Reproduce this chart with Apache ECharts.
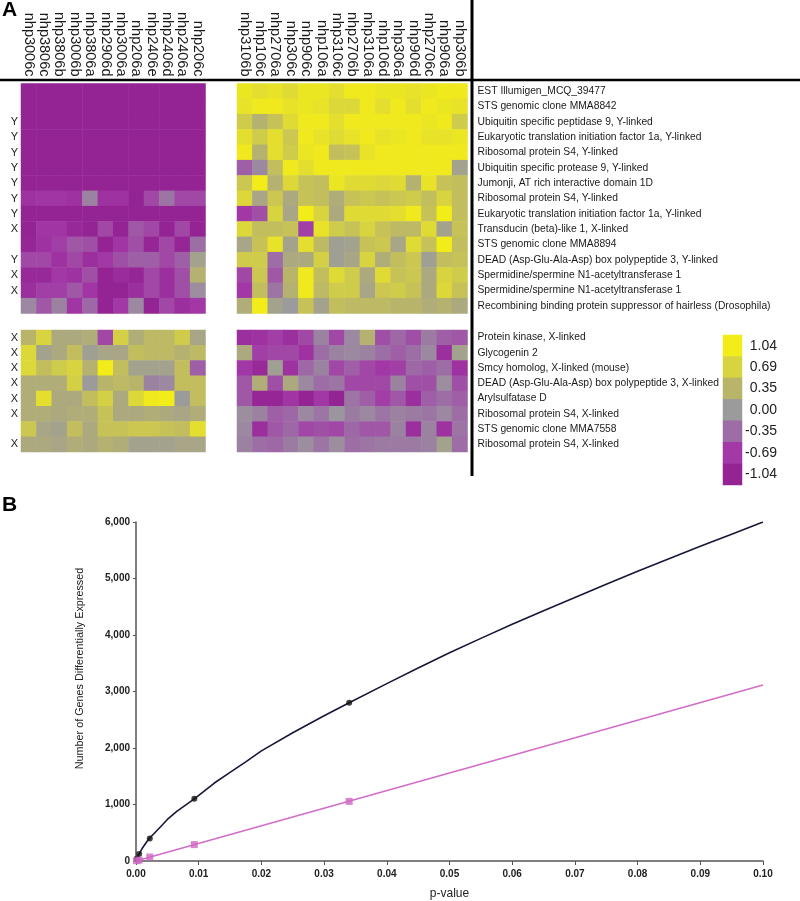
<!DOCTYPE html>
<html><head><meta charset="utf-8">
<script src="https://cdn.jsdelivr.net/npm/echarts@6/dist/echarts.min.js"></script>
<style>html,body{margin:0;padding:0;background:#fff}#c{width:800px;height:901px}</style>
</head><body><div id="c"></div>
<script>
// ---------- Panel A data ----------
const colsLeft = ['nhp3006c','nhp3806c','nhp3806b','nhp3006b','nhp3806a','nhp2906d','nhp3006a','nhp206a','nhp2406e','nhp2406d','nhp2406a','nhp206c'];
const colsRight = ['nhp3106b','nhp106c','nhp2706a','nhp306c','nhp906c','nhp106a','nhp3106c','nhp2706b','nhp3106a','nhp106d','nhp306a','nhp906d','nhp2706c','nhp906a','nhp306b'];
const genesTop = ['EST Illumigen_MCQ_39477','STS genomic clone MMA8842','Ubiquitin specific peptidase 9, Y-linked','Eukaryotic translation initiation factor 1a, Y-linked','Ribosomal protein S4, Y-linked','Ubiquitin specific protease 9, Y-linked','Jumonji, AT rich interactive domain 1D','Ribosomal protein S4, Y-linked','Eukaryotic translation initiation factor 1a, Y-linked','Transducin (beta)-like 1, X-linked','STS genomic clone MMA8894','DEAD (Asp-Glu-Ala-Asp) box polypeptide 3, Y-linked','Spermidine/spermine N1-acetyltransferase 1','Spermidine/spermine N1-acetyltransferase 1','Recombining binding protein suppressor of hairless (Drosophila)'];
const chromTop = ['','','Y','Y','Y','Y','Y','Y','Y','X','','Y','X','X',''];
const genesBottom = ['Protein kinase, X-linked','Glycogenin 2','Smcy homolog, X-linked (mouse)','DEAD (Asp-Glu-Ala-Asp) box polypeptide 3, X-linked','Arylsulfatase D','Ribosomal protein S4, X-linked','STS genomic clone MMA7558','Ribosomal protein S4, X-linked'];
const chromBottom = ['X','X','X','X','X','X','','X'];

const valsTopLeft = [
 [-1.04,-1.04,-1.04,-1.04,-1.04,-1.04,-1.04,-1.04,-1.04,-1.04,-1.04,-1.04],
 [-1.04,-1.04,-1.04,-1.04,-1.04,-1.04,-1.04,-1.04,-1.04,-1.04,-1.04,-1.04],
 [-1.04,-1.04,-1.04,-1.04,-1.04,-1.04,-1.04,-1.04,-1.04,-1.04,-1.04,-1.04],
 [-1.04,-1.04,-1.04,-1.04,-1.04,-1.04,-1.04,-1.04,-1.04,-1.04,-1.04,-1.04],
 [-1.04,-1.04,-1.04,-1.04,-1.04,-1.04,-1.04,-1.04,-1.04,-1.04,-1.04,-1.04],
 [-1.04,-1.04,-1.04,-1.04,-1.04,-1.04,-1.04,-1.04,-1.04,-1.04,-1.04,-1.04],
 [-1.04,-1.04,-1.04,-1.04,-1.04,-1.04,-1.04,-1.04,-1.04,-1.04,-1.04,-1.04],
 [-0.8,-0.75,-0.75,-0.8,-0.2,-0.8,-0.8,-1.04,-0.6,-0.3,-0.6,-0.6],
 [-1.04,-1.04,-1.04,-1.04,-1.04,-1.04,-1.04,-1.04,-1.04,-1.04,-1.04,-1.04],
 [-1.04,-0.75,-0.75,-0.95,-1.04,-0.6,-1.04,-0.5,-0.6,-1.04,-0.6,-1.04],
 [-1.0,-0.8,-0.65,-0.5,-0.55,-1.04,-0.75,-0.55,-1.0,-0.6,-1.0,-0.35],
 [-0.6,-0.6,-0.8,-0.6,-0.85,-0.7,-0.55,-0.45,-0.45,-0.6,-0.45,0.1],
 [-0.95,-0.95,-0.7,-0.8,-0.55,-1.04,-0.9,-1.0,-0.6,-0.85,-0.55,0.3],
 [-0.85,-0.65,-0.65,-0.5,-0.75,-1.04,-1.04,-0.85,-0.6,-0.85,-0.55,-0.1],
 [-0.15,-0.5,-0.2,-0.75,-0.4,-1.04,-0.7,-0.15,-1.04,-0.6,-0.85,-0.7]
];
const valsTopRight = [
 [0.95,0.85,0.9,0.8,0.95,0.95,0.85,1.0,1.0,0.95,0.95,0.9,0.95,1.0,1.0],
 [0.9,1.0,1.0,0.9,0.95,0.9,0.75,0.75,1.0,0.85,1.0,0.85,1.0,0.95,0.9],
 [0.6,0.3,0.5,0.8,1.0,1.0,0.85,1.0,1.0,1.0,1.0,1.0,0.95,1.0,0.6],
 [0.85,0.6,0.85,0.55,1.0,0.9,0.8,0.9,1.0,0.9,0.95,1.0,0.9,0.9,0.95],
 [1.0,0.3,0.85,0.6,0.95,1.0,0.45,0.5,0.9,1.0,1.0,1.0,1.0,1.0,1.0],
 [-0.45,-0.15,0.45,1.0,0.85,1.0,1.0,1.0,1.0,1.0,1.0,1.0,1.0,1.0,0.1],
 [0.55,1.04,0.3,0.75,0.5,0.45,0.95,0.8,0.8,0.75,0.8,0.3,0.9,0.5,0.45],
 [0.75,0.15,0.55,0.2,0.5,0.45,0.25,0.5,0.55,0.5,0.55,0.6,0.45,0.7,0.45],
 [-0.7,-0.55,0.7,0.15,1.04,0.7,0.2,0.8,0.8,0.8,0.85,1.0,0.5,1.04,0.45],
 [0.75,0.45,0.45,0.5,-0.65,0.9,0.6,0.5,0.7,0.5,0.4,0.4,0.8,0.1,0.5],
 [0.15,0.5,0.9,0.1,0.85,0.4,0.05,0.1,0.5,0.55,0.15,0.8,0.5,1.04,0.45],
 [0.6,0.6,-0.35,0.2,0.2,0.65,0.05,0.15,0.7,0.25,0.45,0.55,0.05,0.45,0.5],
 [-0.6,0.55,-0.5,0.35,1.0,0.45,0.8,0.6,0.2,0.8,0.5,0.55,0.2,0.7,0.6],
 [-0.7,0.45,-0.3,0.3,1.0,0.4,0.6,0.6,0.15,0.55,0.6,0.5,0.2,0.75,0.5],
 [0.25,1.04,0.1,0.0,0.5,0.1,0.45,0.4,0.4,0.4,0.35,0.35,0.25,0.3,0.2]
];
const valsBottomLeft = [
 [0.35,0.7,0.2,0.2,0.25,-0.6,0.65,0.25,0.4,0.4,0.6,0.15],
 [0.75,0.1,0.2,0.45,0.05,0.15,0.15,0.45,0.4,0.4,0.3,0.4],
 [0.75,0.45,0.6,0.7,0.3,1.04,0.45,0.1,0.1,0.1,0.45,-0.45],
 [0.25,0.25,0.25,0.65,0.0,0.35,0.4,0.35,-0.2,-0.15,0.45,0.45],
 [0.25,0.85,0.2,0.2,0.45,0.65,0.2,0.75,1.0,1.04,0.0,0.45],
 [0.25,0.25,0.2,0.25,0.25,0.5,0.2,0.2,0.25,0.2,0.15,0.25],
 [0.55,0.15,0.1,0.45,0.2,0.5,0.5,0.55,0.55,0.5,0.45,0.85],
 [0.2,0.2,0.15,0.25,0.2,0.3,0.25,0.1,0.1,0.1,0.15,0.15]
];
const valsBottomRight = [
 [-0.85,-0.8,-0.65,-0.85,-0.6,-0.2,-0.6,-0.15,0.3,-0.55,-0.4,-0.55,-0.25,-0.45,-0.5],
 [0.2,-0.65,-0.6,-0.6,-0.8,-0.35,-0.2,-0.15,-0.2,-0.35,-0.45,-0.35,-0.15,-0.85,0.1],
 [-0.7,-0.95,0.05,-0.8,-0.4,-0.2,-0.6,-0.45,-0.6,-0.7,-0.65,-0.4,-0.45,-0.35,-0.8],
 [-0.5,0.25,-0.55,0.2,-0.15,-0.35,-0.3,-0.6,-0.6,-0.6,-0.2,-0.55,-0.55,-0.1,-0.55],
 [-0.5,-1.0,-1.0,-0.75,-1.04,-0.7,-1.04,-0.3,-0.45,-0.65,-0.5,-0.85,-0.45,-0.35,-0.45],
 [-0.1,-0.2,-0.45,-0.4,-0.15,-0.3,-0.05,-0.25,-0.15,-0.3,-0.2,-0.25,-0.3,-0.15,-0.35],
 [-0.15,-0.85,-0.5,-0.4,-0.6,-0.55,-0.6,-0.4,-0.5,-0.5,-0.2,-0.85,-0.2,-0.8,-0.3],
 [-0.2,-0.35,-0.4,-0.25,-0.1,-0.3,-0.1,-0.35,-0.3,-0.25,-0.25,-0.25,-0.2,0.1,-0.35]
];
const legendLevels = [1.04, 0.69, 0.35, 0.00, -0.35, -0.69, -1.04];
const levelColors = ['#942494','#a238a6','#9d6fa6','#9b9b9b','#b8b46a','#d8d440','#f2ec18'];

// ---------- Panel B data ----------
const curveAll = [[0,0],[0.0001,40],[0.0005,125],[0.001,225],[0.002,385],[0.003,500],[0.004,615],[0.005,735],[0.0065,880],[0.0093,1100],[0.0125,1380],[0.015,1570],[0.0175,1755],[0.02,1950],[0.025,2270],[0.03,2570],[0.034,2800],[0.04,3140],[0.045,3415],[0.05,3685],[0.055,3940],[0.06,4190],[0.065,4430],[0.07,4665],[0.075,4900],[0.08,5130],[0.085,5350],[0.09,5570],[0.095,5785],[0.1,6000]];
const pointsAll = [[0.0001,40],[0.0005,125],[0.0022,400],[0.0093,1100],[0.034,2800]];
const lineSub = [[0,0],[0.1,3115]];
const pointsSub = [[0.0001,5],[0.0005,15],[0.0022,70],[0.0093,290],[0.034,1055]];

function toHeat(m){const d=[];m.forEach((r,ri)=>r.forEach((v,ci)=>d.push([ci,ri,v])));return d;}
const idx = n => Array.from({length:n},(_,i)=>String(i));
const FONT = 'Liberation Sans, Arial, sans-serif';

const chart = echarts.init(document.getElementById('c'), null, {renderer:'canvas'});
const hmGrid = (l,t,w,h)=>({left:l,top:t,width:w,height:h,containLabel:false});
const hiddenX = (data, gi)=>({type:'category',gridIndex:gi,data:data,show:false});
const hmSeries = (xi, data)=>({type:'heatmap',xAxisIndex:xi,yAxisIndex:xi,data:data,itemStyle:{borderWidth:0},emphasis:{disabled:true},progressive:0,animation:false});
const colLabel = {rotate:90,fontSize:14.5,margin:7,color:'#1a1a1a',interval:0,fontFamily:FONT};
const tickFont = {fontSize:10,fontWeight:'bold',color:'#222',fontFamily:FONT};

chart.setOption({
  animation:false,
  textStyle:{fontFamily:FONT},
  grid:[
    hmGrid(21,83.5,184.5,230),
    hmGrid(237,83.5,230.5,230),
    hmGrid(21,330,184.5,122),
    hmGrid(237,330,230.5,122),
    hmGrid(723,335,19,150),
    {left:136,top:522,width:627,height:339}
  ],
  xAxis:[
    {type:'category',gridIndex:0,data:colsLeft,position:'top',axisLine:{show:false},axisTick:{show:false},axisLabel:colLabel},
    {type:'category',gridIndex:1,data:colsRight,position:'top',axisLine:{show:false},axisTick:{show:false},axisLabel:colLabel},
    hiddenX(colsLeft,2),
    hiddenX(colsRight,3),
    hiddenX(['scale'],4),
    {type:'value',gridIndex:5,min:0,max:0.1,interval:0.01,
     name:'p-value',nameLocation:'middle',nameGap:27,nameTextStyle:{fontSize:12,color:'#222'},
     axisLine:{show:true,lineStyle:{color:'#555',width:1.5}},axisTick:{show:true,length:4,lineStyle:{color:'#555'}},
     splitLine:{show:false},
     axisLabel:Object.assign({margin:8,formatter:v=>v.toFixed(2)},tickFont)}
  ],
  yAxis:[
    {type:'category',gridIndex:0,data:idx(genesTop.length),inverse:true,position:'left',axisLine:{show:false},axisTick:{show:false},
     axisLabel:{fontSize:11,margin:3,color:'#222',interval:0,formatter:(v,i)=>chromTop[i]}},
    {type:'category',gridIndex:1,data:idx(genesTop.length),inverse:true,position:'right',axisLine:{show:false},axisTick:{show:false},
     axisLabel:{fontSize:10.3,margin:10,color:'#1a1a1a',interval:0,formatter:(v,i)=>genesTop[i]}},
    {type:'category',gridIndex:2,data:idx(genesBottom.length),inverse:true,position:'left',axisLine:{show:false},axisTick:{show:false},
     axisLabel:{fontSize:11,margin:3,color:'#222',interval:0,formatter:(v,i)=>chromBottom[i]}},
    {type:'category',gridIndex:3,data:idx(genesBottom.length),inverse:true,position:'right',axisLine:{show:false},axisTick:{show:false},
     axisLabel:{fontSize:10.3,margin:10,color:'#1a1a1a',interval:0,width:245,overflow:'truncate',ellipsis:'',formatter:(v,i)=>genesBottom[i]}},
    {type:'category',gridIndex:4,data:legendLevels.map(v=>v.toFixed(2)),inverse:true,position:'right',axisLine:{show:false},axisTick:{show:false},
     axisLabel:{fontSize:14,margin:35,align:'right',color:'#222',interval:0}},
    {type:'value',gridIndex:5,min:0,max:6000,interval:1000,
     name:'Number of Genes Differentially Expressed',nameLocation:'middle',nameGap:50,nameRotate:90,
     nameTextStyle:{fontSize:10.8,color:'#222',padding:[0,0,0,46]},
     axisLine:{show:true,lineStyle:{color:'#555',width:1.5}},axisTick:{show:true,length:3,lineStyle:{color:'#555'}},
     splitLine:{show:false},
     axisLabel:Object.assign({margin:6,formatter:v=>String(v).replace(/\B(?=(\d{3})+(?!\d))/g,',')},tickFont)}
  ],
  visualMap:{type:'continuous',show:false,min:-1.04,max:1.04,seriesIndex:[0,1,2,3,4],calculable:false,
    inRange:{color:levelColors}},
  series:[
    hmSeries(0,toHeat(valsTopLeft)),
    hmSeries(1,toHeat(valsTopRight)),
    hmSeries(2,toHeat(valsBottomLeft)),
    hmSeries(3,toHeat(valsBottomRight)),
    hmSeries(4,legendLevels.map((v,i)=>[0,i,v])),
    {type:'line',xAxisIndex:5,yAxisIndex:5,data:curveAll,smooth:false,showSymbol:false,symbol:'none',
     lineStyle:{color:'#17173a',width:1.6,join:'round'},z:3},
    {type:'scatter',xAxisIndex:5,yAxisIndex:5,data:pointsAll,symbol:'circle',symbolSize:6,itemStyle:{color:'#111'},z:4},
    {type:'line',xAxisIndex:5,yAxisIndex:5,data:lineSub,showSymbol:false,symbol:'none',
     lineStyle:{color:'#d16cc8',width:1.6},z:3},
    {type:'scatter',xAxisIndex:5,yAxisIndex:5,data:pointsSub,symbol:'rect',symbolSize:7,itemStyle:{color:'#cf66c2'},z:4}
  ],
  graphic:[
    {type:'line',shape:{x1:0,y1:80,x2:800,y2:80},style:{stroke:'#000',lineWidth:2.5},z:10},
    {type:'line',shape:{x1:472,y1:0,x2:472,y2:476},style:{stroke:'#000',lineWidth:3},z:10},
    {type:'text',left:2,top:0,style:{text:'A',fontSize:21,fontWeight:'bold',fill:'#000',fontFamily:FONT}},
    {type:'text',left:2,top:495,style:{text:'B',fontSize:21,fontWeight:'bold',fill:'#000',fontFamily:FONT}}
  ]
});
</script></body></html>
